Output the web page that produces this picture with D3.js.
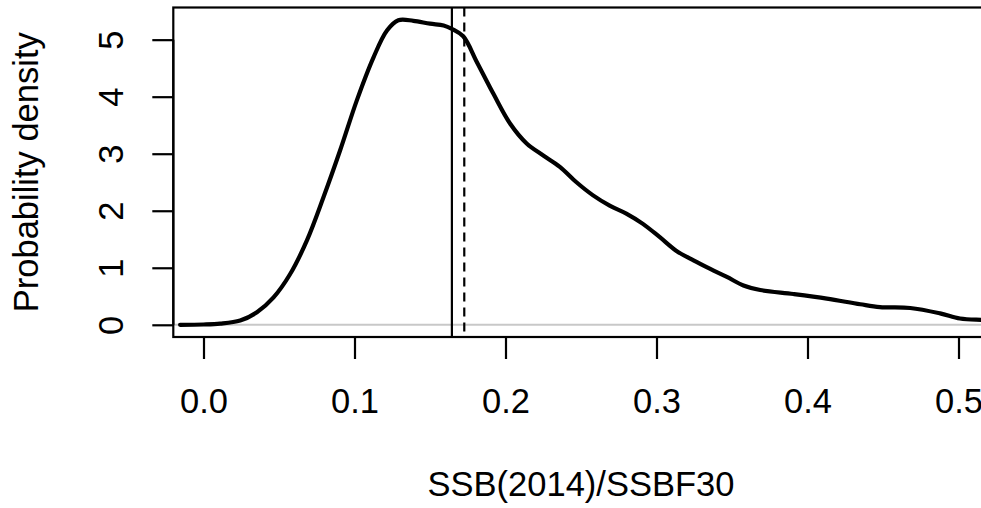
<!DOCTYPE html>
<html>
<head>
<meta charset="utf-8">
<script src="https://cdn.jsdelivr.net/npm/d3@7"></script>
<style>
  html, body { margin: 0; padding: 0; background: #fff; }
  svg { display: block; }
  text { font-family: "Liberation Sans", Arial, sans-serif; fill: #000; }
</style>
</head>
<body>
<svg id="chart" width="981" height="508"></svg>
<script>
// ---- data ----
const densX = [-0.0155, 0.0, 0.011, 0.0243, 0.0354, 0.0464, 0.0574, 0.0685, 0.0795, 0.0905,
  0.1016, 0.1126, 0.1215, 0.129, 0.139, 0.150, 0.159, 0.1645, 0.172, 0.181,
  0.192, 0.203, 0.214, 0.225, 0.236, 0.247, 0.258, 0.269, 0.280, 0.291,
  0.302, 0.313, 0.3245, 0.3356, 0.3466, 0.3576, 0.3687, 0.3907, 0.4128, 0.4349,
  0.448, 0.468, 0.4878, 0.501, 0.516, 0.53];
const densY = [0.0, 0.005, 0.02, 0.075, 0.22, 0.48, 0.89, 1.48, 2.24, 3.06,
  3.94, 4.69, 5.16, 5.34, 5.33, 5.28, 5.25, 5.19, 5.06, 4.61,
  4.05, 3.53, 3.18, 2.97, 2.77, 2.50, 2.27, 2.09, 1.95, 1.77,
  1.54, 1.30, 1.13, 0.98, 0.84, 0.69, 0.61, 0.54, 0.46, 0.36,
  0.31, 0.295, 0.20, 0.11, 0.085, 0.07];
const xTicks = [0.0, 0.1, 0.2, 0.3, 0.4, 0.5];
const xTickLabels = ["0.0", "0.1", "0.2", "0.3", "0.4", "0.5"];
const yTicks = [0, 1, 2, 3, 4, 5];
const yTickLabels = ["0", "1", "2", "3", "4", "5"];
const xLim = [0, 0.5];
const yLim = [0, 5.35];
const solidLineX = 0.1645;
const dashedLineX = 0.1727;
const xTitle = "SSB(2014)/SSBF30";
const yTitle = "Probability density";

// ---- layout ----
const plot = { left: 173.3, top: 7.5, bottom: 337 };
const ext = (lim) => { const d = (lim[1] - lim[0]) * 0.04; return [lim[0] - d, lim[1] + d]; };
const xDom = ext(xLim), yDom = ext(yLim);
const pxPerUnit = 1510;
plot.right = plot.left + (xDom[1] - xDom[0]) * pxPerUnit;

const x = d3.scaleLinear().domain(xDom).range([plot.left, plot.right]);
const y = d3.scaleLinear().domain(yDom).range([plot.bottom, plot.top]);

const svg = d3.select("#chart");
const fs = 34.5;

// zero reference line (gray)
svg.append("line")
  .attr("x1", plot.left).attr("x2", plot.right)
  .attr("y1", y(0)).attr("y2", y(0))
  .attr("stroke", "#c8c8c8").attr("stroke-width", 2);

// vertical reference lines
svg.append("line")
  .attr("x1", x(solidLineX)).attr("x2", x(solidLineX))
  .attr("y1", plot.top).attr("y2", plot.bottom)
  .attr("stroke", "#000").attr("stroke-width", 2.2);
svg.append("line")
  .attr("x1", x(dashedLineX)).attr("x2", x(dashedLineX))
  .attr("y1", plot.top).attr("y2", plot.bottom)
  .attr("stroke", "#000").attr("stroke-width", 2.2)
  .attr("stroke-dasharray", "9,6");

// density curve
const pts = densX.map((d, i) => [d, densY[i]]);
svg.append("clipPath").attr("id", "clip").append("rect")
  .attr("x", plot.left).attr("y", plot.top)
  .attr("width", plot.right - plot.left).attr("height", plot.bottom - plot.top);
svg.append("path")
  .datum(pts)
  .attr("clip-path", "url(#clip)")
  .attr("fill", "none").attr("stroke", "#000").attr("stroke-width", 4.2)
  .attr("stroke-linecap", "round").attr("stroke-linejoin", "round")
  .attr("d", d3.line().x(d => x(d[0])).y(d => y(d[1])).curve(d3.curveCatmullRom.alpha(0.5)));

// box
svg.append("rect")
  .attr("x", plot.left).attr("y", plot.top)
  .attr("width", plot.right - plot.left).attr("height", plot.bottom - plot.top)
  .attr("fill", "none").attr("stroke", "#000").attr("stroke-width", 2.2);

// x axis
const xAxis = d3.axisBottom(x).tickValues(xTicks).tickSize(22).tickPadding(0)
  .tickFormat((d, i) => xTickLabels[i]);
const gx = svg.append("g").attr("transform", `translate(0,${plot.bottom})`).call(xAxis);
gx.select(".domain").attr("d", `M${x(xTicks[0])},0H${x(xTicks[xTicks.length - 1])}`)
  .attr("stroke", "#000").attr("stroke-width", 2.2);
gx.selectAll(".tick line").attr("stroke", "#000").attr("stroke-width", 2.2);
gx.selectAll(".tick text").attr("y", 413.3 - plot.bottom).attr("dy", 0)
  .attr("font-size", fs).attr("font-family", "Liberation Sans, Arial, sans-serif")
  .attr("fill", "#000");

// y axis
const yAxis = d3.axisLeft(y).tickValues(yTicks).tickSize(21).tickPadding(0)
  .tickFormat((d, i) => yTickLabels[i]);
const gy = svg.append("g").attr("transform", `translate(${plot.left},0)`).call(yAxis);
gy.select(".domain").attr("d", `M0,${y(yTicks[0])}V${y(yTicks[yTicks.length - 1])}`)
  .attr("stroke", "#000").attr("stroke-width", 2.2);
gy.selectAll(".tick line").attr("stroke", "#000").attr("stroke-width", 2.2);
gy.selectAll(".tick text")
  .attr("x", null).attr("dy", null)
  .attr("text-anchor", "middle")
  .attr("transform", `translate(${123 - plot.left},0) rotate(-90)`)
  .attr("font-size", fs).attr("font-family", "Liberation Sans, Arial, sans-serif")
  .attr("fill", "#000");

// titles
svg.append("text")
  .attr("x", (plot.left + plot.right) / 2).attr("y", 495.5)
  .attr("text-anchor", "middle").attr("font-size", fs)
  .text(xTitle);
svg.append("text")
  .attr("transform", `translate(38,${(plot.top + plot.bottom) / 2}) rotate(-90)`)
  .attr("text-anchor", "middle").attr("font-size", fs)
  .text(yTitle);
</script>
</body>
</html>
